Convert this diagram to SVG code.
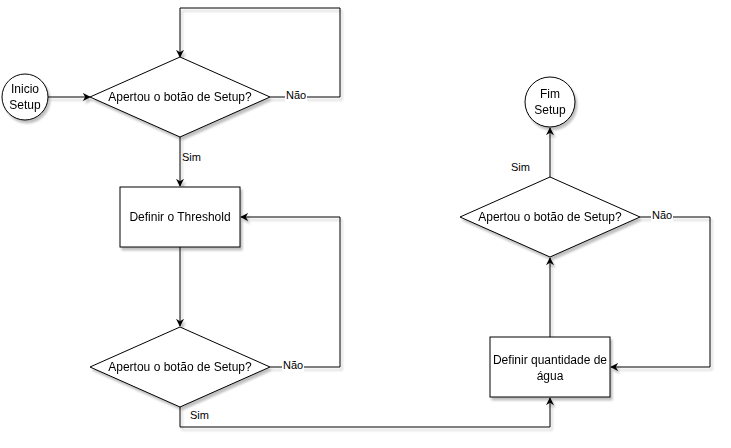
<svg xmlns="http://www.w3.org/2000/svg" width="731" height="448" viewBox="0 0 731 448">
<style>
.shape{fill:#fff;stroke:#000;stroke-width:1}
.edge{fill:none;stroke:#000;stroke-width:1}
text{font-family:"Liberation Sans",Arial,sans-serif;font-size:12px;fill:#000}
.lbl{font-size:11px}
.lblbg{fill:#fff}
</style>
<defs>
<filter id="sh" x="-20%" y="-20%" width="140%" height="140%">
<feGaussianBlur in="SourceAlpha" stdDeviation="1.2"/>
<feOffset dx="2" dy="3" result="o"/>
<feComponentTransfer><feFuncA type="linear" slope="0.25"/></feComponentTransfer>
<feMerge><feMergeNode/><feMergeNode in="SourceGraphic"/></feMerge>
</filter>
<marker id="arr" viewBox="0 0 10 10" refX="9" refY="5" markerWidth="8" markerHeight="8" orient="auto" markerUnits="userSpaceOnUse">
<path d="M0,0 L10,5 L0,10 L3,5 Z" fill="#000"/>
</marker>
</defs>
<g id="connectors" filter="url(#sh)">
<path class="edge" d="M48,97 L90,97" marker-end="url(#arr)"/>
<path class="edge" d="M270,97 L340,97 L340,8 L180,8 L180,57" marker-end="url(#arr)"/>
<path class="edge" d="M180,137 L180,186" marker-end="url(#arr)"/>
<path class="edge" d="M180,247 L180,326" marker-end="url(#arr)"/>
<path class="edge" d="M270,367 L340,367 L340,217 L241,217" marker-end="url(#arr)"/>
<path class="edge" d="M180,407 L180,427 L550,427 L550,398" marker-end="url(#arr)"/>
<path class="edge" d="M550,337 L550,258" marker-end="url(#arr)"/>
<path class="edge" d="M640,217 L710,217 L710,367 L611,367" marker-end="url(#arr)"/>
<path class="edge" d="M550,177 L550,128" marker-end="url(#arr)"/>
</g>
<g id="labels">
<rect class="lblbg" x="285" y="89" width="22" height="13"/>
<text class="lbl" x="286" y="99">Não</text>
<text class="lbl" x="182" y="161">Sim</text>
<rect class="lblbg" x="282" y="359" width="22" height="13"/>
<text class="lbl" x="283" y="369">Não</text>
<text class="lbl" x="190" y="419">Sim</text>
<text class="lbl" x="511" y="171">Sim</text>
<rect class="lblbg" x="651" y="209" width="22" height="13"/>
<text class="lbl" x="652" y="219">Não</text>
</g>
<g id="inicio" filter="url(#sh)">
<circle class="shape" cx="25" cy="97" r="23"/>
<text x="25" y="93" text-anchor="middle">Inicio</text>
<text x="25" y="109" text-anchor="middle">Setup</text>
</g>
<g id="decisao1" filter="url(#sh)">
<polygon class="shape" points="180,57 270,97 180,137 90,97"/>
<text x="180" y="101" text-anchor="middle">Apertou o botão de Setup?</text>
</g>
<g id="threshold" filter="url(#sh)">
<rect class="shape" x="120" y="187" width="120" height="60"/>
<text x="180" y="221" text-anchor="middle">Definir o Threshold</text>
</g>
<g id="decisao2" filter="url(#sh)">
<polygon class="shape" points="180,327 270,367 180,407 90,367"/>
<text x="180" y="371" text-anchor="middle">Apertou o botão de Setup?</text>
</g>
<g id="agua" filter="url(#sh)">
<rect class="shape" x="490" y="337" width="120" height="60"/>
<text x="550" y="364" text-anchor="middle">Definir quantidade de</text>
<text x="550" y="380" text-anchor="middle">água</text>
</g>
<g id="decisao3" filter="url(#sh)">
<polygon class="shape" points="550,177 640,217 550,257 460,217"/>
<text x="550" y="221" text-anchor="middle">Apertou o botão de Setup?</text>
</g>
<g id="fim" filter="url(#sh)">
<circle class="shape" cx="550" cy="102" r="25"/>
<text x="550" y="98" text-anchor="middle">Fim</text>
<text x="550" y="114" text-anchor="middle">Setup</text>
</g>
</svg>
